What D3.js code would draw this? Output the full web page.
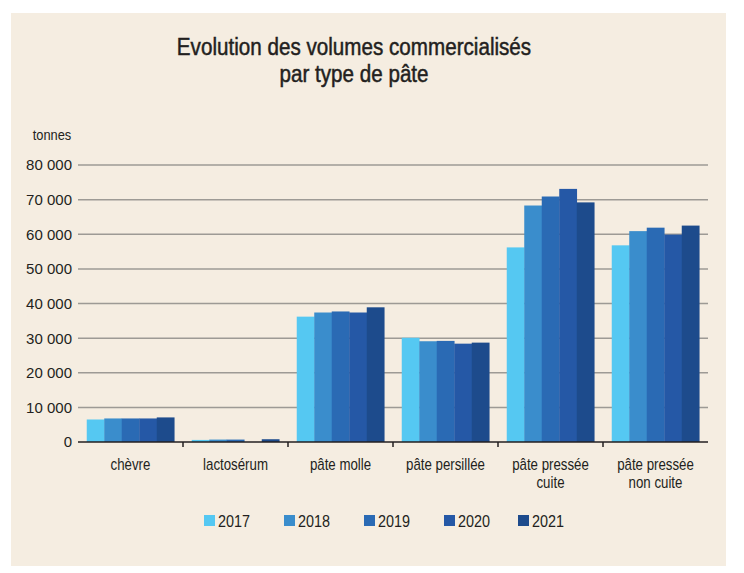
<!DOCTYPE html>
<html>
<head>
<meta charset="utf-8">
<script src="https://cdn.jsdelivr.net/npm/d3@7"></script>
<style>
  body { margin: 0; background: #fff; }
  svg text { fill: #231f20; font-family: "Liberation Sans", Arial, sans-serif; }
  .grid line { stroke: #9d9a95; stroke-width: 1.5; }
</style>
</head>
<body>
<div id="chart"></div>
<script>
/**
 * DATA
 **/
const categories = ["chèvre", "lactosérum", "pâte molle", "pâte persillée", "pâte pressée cuite", "pâte pressée non cuite"];
const categoryLines = [["chèvre"], ["lactosérum"], ["pâte molle"], ["pâte persillée"], ["pâte pressée", "cuite"], ["pâte pressée", "non cuite"]];
const years = ["2017", "2018", "2019", "2020", "2021"];
const colors = ["#55c8f2", "#3a8dcc", "#2a6ab4", "#2558a6", "#1d4b8c"];
const yTicks = [0, 10000, 20000, 30000, 40000, 50000, 60000, 70000, 80000];

// tonnes per category, one array per year
const v2017 = [6500, 600, 36200, 30100, 56200, 56800];
const v2018 = [6800, 700, 37400, 29100, 68300, 60900];
const v2019 = [6800, 700, 37700, 29200, 70900, 61900];
const v2020 = [6800, 0, 37400, 28400, 73100, 59900];
const v2021 = [7100, 800, 38900, 28700, 69200, 62500];
const series = [v2017, v2018, v2019, v2020, v2021];

/**
 * CONSTANTS
 **/
const width = 744, height = 573,
  margin = { top: 165, right: 36, bottom: 131, left: 78 },
  narrow = 0.83, // horizontal squeeze to mimic a condensed face
  formatSpace = d => d3.format(",")(d).replace(/,/g, " ");

const svg = d3.select("#chart")
  .append("svg")
  .attr("width", width)
  .attr("height", height);

// background panel
svg.append("rect")
  .attr("x", 11).attr("y", 13)
  .attr("width", 715).attr("height", 553)
  .attr("fill", "#f5ede1");

// SCALES
const xScale = d3.scaleBand()
  .domain(categories)
  .range([margin.left, width - margin.right]);

const xInner = d3.scaleBand()
  .domain(years)
  .range([0, xScale.bandwidth()])
  .paddingOuter(0.5);

const yScale = d3.scaleLinear()
  .domain([0, 80000])
  .range([height - margin.bottom, margin.top]);

// GRID + Y LABELS
svg.append("g").attr("class", "grid")
  .selectAll("line")
  .data(yTicks.filter(d => d > 0))
  .join("line")
  .attr("x1", margin.left)
  .attr("x2", width - margin.right)
  .attr("y1", d => yScale(d))
  .attr("y2", d => yScale(d));

svg.append("g")
  .selectAll("text")
  .data(yTicks)
  .join("text")
  .attr("x", 72)
  .attr("y", d => yScale(d))
  .attr("dy", "0.36em")
  .attr("text-anchor", "end")
  .style("font-size", "15px")
  .text(formatSpace);

svg.append("text")
  .attr("transform", `translate(52,140) scale(${narrow},1)`)
  .attr("text-anchor", "middle")
  .style("font-size", "15.5px")
  .text("tonnes");

// BARS
svg.append("g")
  .selectAll("g")
  .data(series)
  .join("g")
  .attr("fill", (d, i) => colors[i])
  .selectAll("rect")
  .data((d, i) => d.map((v, j) => ({ cat: categories[j], year: years[i], value: v })))
  .join("rect")
  .attr("x", d => xScale(d.cat) + xInner(d.year))
  .attr("width", xInner.bandwidth() + 0.3)
  .attr("y", d => yScale(d.value))
  .attr("height", d => yScale(0) - yScale(d.value));

// X AXIS
const xAxis = svg.append("g")
  .attr("transform", `translate(0,${yScale(0)})`);

xAxis.append("line")
  .attr("x1", margin.left)
  .attr("x2", width - margin.right)
  .attr("stroke", "#231f20")
  .attr("stroke-width", 1.5);

xAxis.selectAll("line.tick")
  .data(categories.slice(1))
  .join("line")
  .attr("class", "tick")
  .attr("x1", d => xScale(d))
  .attr("x2", d => xScale(d))
  .attr("y1", 0)
  .attr("y2", 5)
  .attr("stroke", "#231f20")
  .attr("stroke-width", 1.5);

xAxis.selectAll("text.cat")
  .data(categories)
  .join("text")
  .attr("class", "cat")
  .attr("text-anchor", "middle")
  .attr("transform", d => `translate(${xScale(d) + xScale.bandwidth() / 2},28) scale(${narrow},1)`)
  .style("font-size", "16px")
  .selectAll("tspan")
  .data((d, i) => categoryLines[i])
  .join("tspan")
  .attr("x", 0)
  .attr("y", (d, i) => i * 18)
  .text(d => d);

// TITLE
const title = svg.append("text")
  .attr("transform", `translate(354,0) scale(0.86,1)`)
  .attr("text-anchor", "middle")
  .style("font-size", "24px")
  .style("stroke", "#231f20")
  .style("stroke-width", "0.5px");
title.append("tspan").attr("x", 0).attr("y", 55).text("Evolution des volumes commercialisés");
title.append("tspan").attr("x", 0).attr("y", 82).text("par type de pâte");

// LEGEND
const legendX = [204, 284, 364, 444, 518];
const legend = svg.append("g")
  .selectAll("g")
  .data(years)
  .join("g")
  .attr("transform", (d, i) => `translate(${legendX[i]},515)`);

legend.append("rect")
  .attr("width", 11)
  .attr("height", 11)
  .attr("fill", (d, i) => colors[i]);

legend.append("text")
  .attr("transform", "translate(14,11.5) scale(0.9,1)")
  .style("font-size", "16px")
  .text(d => d);
</script>
</body>
</html>
